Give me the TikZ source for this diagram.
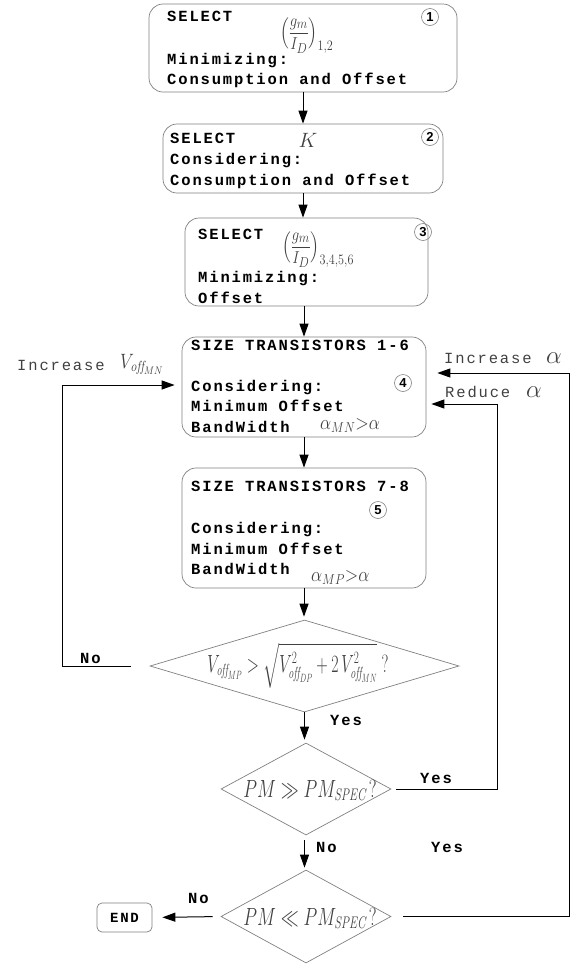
\documentclass[tikz,border=0pt]{standalone}
\usepackage{amsmath}
\usepackage{graphicx}
\usepackage{fontspec}
\usetikzlibrary{arrows.meta,shapes.geometric,calc}
\newfontfamily\courf[LetterSpace=12]{Liberation Mono}
\newfontfamily\circf{Liberation Sans}
\newcommand{\narrow}[1]{\scalebox{0.72}[1]{#1}}
\begin{document}
\begin{tikzpicture}[x=1pt,y=-1pt,
  box/.style={draw=gray, line width=0.7pt, rounded corners=14pt, inner sep=0pt},
  dia/.style={draw=gray, line width=0.7pt, diamond, inner sep=0pt},
  tx/.style={anchor=base west, inner sep=0pt, font=\courf\bfseries\fontsize{15.5}{18}\selectfont},
  lbl/.style={anchor=base west, inner sep=0pt, text=black!75, font=\courf\fontsize{15.5}{18}\selectfont},
  yn/.style={anchor=base west, inner sep=0pt, font=\courf\bfseries\fontsize{15.5}{18}\selectfont},
  mth/.style={inner sep=0pt, text=black!75, font=\fontsize{18}{20}\selectfont},
  num/.style={circle, draw=gray, line width=0.6pt, inner sep=0pt, minimum size=17pt, font=\circf\bfseries\fontsize{13}{13}\selectfont},
  arr/.style={line width=1pt, -{Triangle[length=13pt,width=9pt]}},
  ln/.style={line width=1pt}]
\useasboundingbox (0,0) rectangle (586,967);

% boxes
\node[box, minimum width=308pt, minimum height=88pt] (b1) at (303,48) {};
\node[box, minimum width=280pt, minimum height=69pt] (b2) at (303,158.5) {};
\node[box, minimum width=243pt, minimum height=88pt] (b3) at (306.5,262) {};
\node[box, minimum width=244pt, minimum height=100pt] (b4) at (304,387) {};
\node[box, minimum width=244pt, minimum height=120pt] (b5) at (304,528) {};
\node[dia, minimum width=309pt, minimum height=92pt] (d1) at (304.5,666) {};
\node[dia, minimum width=170pt, minimum height=92pt] (d2) at (306,789) {};
\node[dia, minimum width=170pt, minimum height=93pt] (d3) at (306,916.5) {};
\node[box, rounded corners=5pt, minimum width=55pt, minimum height=29pt, font=\courf\bfseries\fontsize{14}{16}\selectfont] (end) at (124.5,917.5) {END};

% box 1
\node[tx] (t11) at (167,21) {SELECT};
\node[tx] (t12) at (167,64) {Minimizing:};
\node[tx] (t13) at (167,84) {Consumption and Offset};
\node[mth, anchor=west, font=\fontsize{19}{21}\selectfont] (f1) at (280,36) {\scalebox{0.85}[1]{$\Bigl(\dfrac{g_m}{I_D}\Bigr)_{1,2}$}};
\node[num] (n1) at (430,17) {1};
% box 2
\node[tx] (t21) at (170,143) {SELECT};
\node[tx] (t22) at (170,164) {Considering:};
\node[tx] (t23) at (170,185) {Consumption and Offset};
\node[mth, anchor=base, font=\fontsize{21}{23}\selectfont] (k) at (308,147) {$K$};
\node[num] (n2) at (430,137) {2};
% box 3
\node[tx] (t31) at (198,239) {SELECT};
\node[tx] (t32) at (198,282) {Minimizing:};
\node[tx] (t33) at (198,303) {Offset};
\node[mth, anchor=west, font=\fontsize{19}{21}\selectfont] (f3) at (282,250) {\scalebox{0.85}[1]{$\Bigl(\dfrac{g_m}{I_D}\Bigr)_{3,4,5,6}$}};
\node[num] (n3) at (423,232) {3};
% box 4
\node[tx] (t41) at (191,350) {SIZE TRANSISTORS 1-6};
\node[tx] (t42) at (191,391) {Considering:};
\node[tx] (t43) at (191,411) {Minimum Offset};
\node[tx] (t44) at (191,432) {BandWidth};
\node[mth, anchor=base west, font=\fontsize{22}{24}\selectfont] (a4) at (320,429) {\scalebox{0.85}[1]{$\alpha_{MN}{>}\alpha$}};
\node[num] (n4) at (403,383) {4};
% box 5
\node[tx] (t51) at (191,491) {SIZE TRANSISTORS 7-8};
\node[tx] (t52) at (191,533) {Considering:};
\node[tx] (t53) at (191,554) {Minimum Offset};
\node[tx] (t54) at (191,574) {BandWidth};
\node[mth, anchor=base west, font=\fontsize{22}{24}\selectfont] (a5) at (311,581) {\scalebox{0.85}[1]{$\alpha_{MP}{>}\alpha$}};
\node[num] (n5) at (378,510) {5};

% diamond texts
\node[mth, anchor=base, font=\fontsize{23}{25}\selectfont] (q1) at (298,672) {\scalebox{0.64}[1]{$V_{\mathit{off}_{MP}} > \sqrt{V^2_{\mathit{off}_{DP}} + 2\,V^2_{\mathit{off}_{MN}}}\;?$}};
\node[mth, anchor=base, font=\fontsize{24}{26}\selectfont] (q2) at (310,797) {\narrow{$PM \gg PM_{\mathit{SPEC}}\,?$}};
\node[mth, anchor=base, font=\fontsize{24}{26}\selectfont] (q3) at (310,925) {\narrow{$PM \ll PM_{\mathit{SPEC}}\,?$}};

% vertical flow arrows
\draw[arr] (b1.south) -- (b2.north);
\draw[arr] (b2.south) -- (b2.south |- b3.north);
\draw[arr] (b4.north |- b3.south) -- (b4.north);
\draw[arr] (b4.south) -- (b5.north);
\draw[arr, shorten >=3pt] (b5.south) -- (b5.south |- d1.north);
\draw[arr, shorten >=3pt] (d1.south) -- (d1.south |- d2.north);
\draw[arr, shorten <=5pt, shorten >=2pt] (d1.south |- d2.south) -- (d1.south |- d3.north);
\draw[arr, shorten <=8pt, shorten >=10pt] (d3.west) -- (end.east);

% feedback loops
\coordinate (lc) at (62,385);
\coordinate (rc) at (497,404);
\coordinate (ic) at (569,373);
\draw[arr, shorten <=19pt, shorten >=7pt] (d1.west) -| (lc) -- (lc -| b4.west);
\draw[arr, shorten <=5pt, shorten >=5pt] (d2.east) -| (rc) -- (rc -| b4.east);
\draw[arr, shorten <=12pt, shorten >=11pt] (d3.east) -| (ic) -- (ic -| b4.east);

% labels
\node[lbl] (l1) at (17,370) {Increase};
\node[mth, anchor=base west, font=\fontsize{21}{23}\selectfont] (l1v) at (120,368) {\scalebox{0.85}[1]{$V_{\mathit{off}_{MN}}$}};
\node[lbl] (l2) at (444,363) {Increase};
\node[mth, anchor=base west, font=\fontsize{25}{27}\selectfont] (l2a) at (546,363) {$\alpha$};
\node[lbl] (l3) at (445,397) {Reduce};
\node[mth, anchor=base west, font=\fontsize{25}{27}\selectfont] (l3a) at (526,397) {$\alpha$};
\node[yn] (no1) at (80,663) {No};
\node[yn] (yes1) at (330,725) {Yes};
\node[yn] (yes2) at (420,783) {Yes};
\node[yn] (no2) at (316,852) {No};
\node[yn] (yes3) at (431,852) {Yes};
\node[yn] (no3) at (188,903) {No};
\end{tikzpicture}
\end{document}
